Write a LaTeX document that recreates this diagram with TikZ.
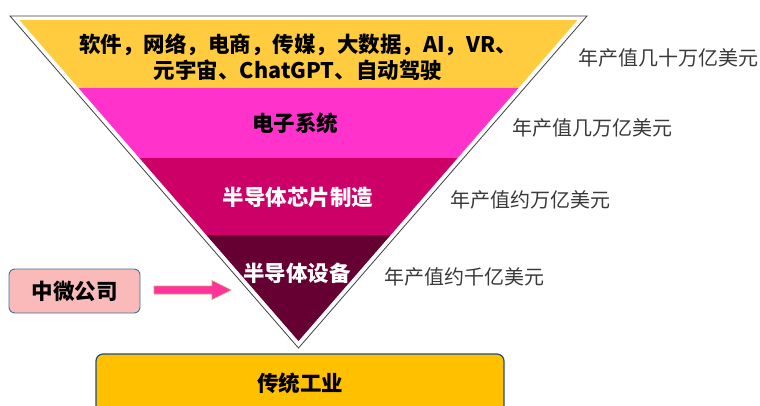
\documentclass[tikz,border=0pt]{standalone}
\usepackage{fontspec}
\setmainfont{Noto Sans CJK SC}
\usetikzlibrary{calc}
\definecolor{bandA}{HTML}{FFCC40}
\definecolor{bandB}{HTML}{FF33CC}
\definecolor{bandC}{HTML}{CC0066}
\definecolor{bandD}{HTML}{660033}
\definecolor{baseY}{HTML}{FFC000}
\definecolor{boxline}{HTML}{1F4E79}
\definecolor{pinkbox}{HTML}{FBBABA}
\definecolor{pinkline}{HTML}{41719C}
\definecolor{arrowfill}{HTML}{FF3399}
\definecolor{arrowline}{HTML}{C9A66B}
\definecolor{labgray}{HTML}{3A3A3A}
\tikzset{
  bandtext/.style={font=\fontsize{21.5}{26}\selectfont\bfseries, align=center, inner sep=0pt},
  valuetext/.style={font=\fontsize{20}{24}\selectfont, text=labgray, anchor=west, inner sep=0pt},
  company/.style={draw=pinkline, fill=pinkbox, line width=0.9pt, rounded corners=6pt},
  basebox/.style={draw=boxline, fill=baseY, line width=1.2pt, rounded corners=7pt},
}
\begin{document}
\begin{tikzpicture}[x=1pt,y=-1pt]
\useasboundingbox (0,0) rectangle (760,405);
% outer triangle outline
\coordinate (oL) at (10,16);
\coordinate (oR) at (587,16);
\coordinate (oA) at (298.5,348);
\draw[draw=black!75, line width=0.8pt, fill=white] (oL) -- (oR) -- (oA) -- cycle;
% inner coloured triangle
\coordinate (iL) at (19.4,20);
\coordinate (iR) at (577.6,20);
\coordinate (iA) at (298.5,341);
\begin{scope}
  \clip (iL) -- (iR) -- (iA) -- cycle;
  \fill[bandA] (0,20) rectangle (760,88);
  \fill[bandB] (0,88) rectangle (760,157.5);
  \fill[bandC] (0,157.5) rectangle (760,235);
  \fill[bandD] (0,235) rectangle (760,350);
\end{scope}
% band texts
\node[bandtext] (t1) at (298,57) {软件，网络，电商，传媒，大数据，AI，VR、\\元宇宙、ChatGPT、自动驾驶};
\node[bandtext] (t2) at (295,123) {电子系统};
\node[bandtext, text=white] (t3) at (298,197) {半导体芯片制造};
\node[bandtext, text=white] (t4) at (297,273) {半导体设备};
% value labels
\node[valuetext] (v1) at (578,58) {年产值几十万亿美元};
\node[valuetext] (v2) at (512,128) {年产值几万亿美元};
\node[valuetext] (v3) at (450,200) {年产值约万亿美元};
\node[valuetext] (v4) at (384,277) {年产值约千亿美元};
% company box
\node[company, minimum width=131pt, minimum height=44pt, inner sep=0pt] (zw) at (74.5,291) {};
\node[bandtext] (zwt) at (zw.center) {中微公司};
% block arrow
\coordinate (aT) at (154,290);
\coordinate (aH) at (231,290);
\filldraw[fill=arrowfill, draw=arrowline, line width=0.6pt]
  ($(aT)+(0,-4)$) -- ($(aH)+(-19,-4)$) -- ($(aH)+(-19,-9.5)$) -- (aH)
  -- ($(aH)+(-19,9.5)$) -- ($(aH)+(-19,4)$) -- ($(aT)+(0,4)$) -- cycle;
% base box
\begin{scope}
  \clip (0,0) rectangle (760,405);
  \draw[basebox] (96,354) rectangle (504,430);
\end{scope}
\node[bandtext] (base) at (300,383) {传统工业};
\end{tikzpicture}
\end{document}
